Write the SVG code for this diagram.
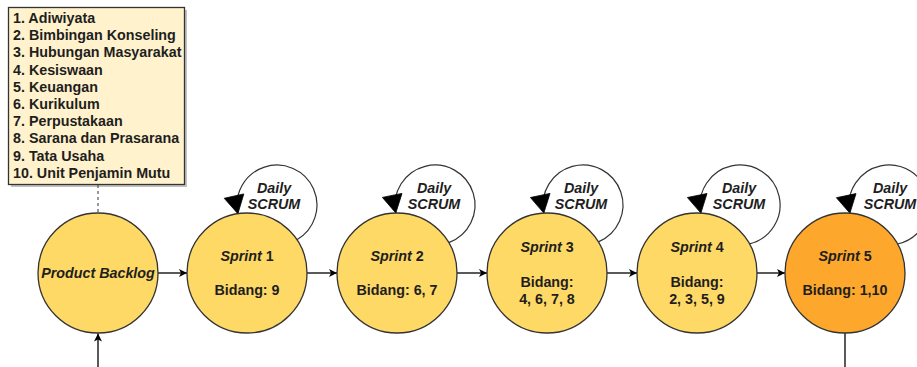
<svg xmlns="http://www.w3.org/2000/svg" width="917" height="367" viewBox="0 0 917 367">
  <style>
    text { font-family: "Liberation Sans", Arial, sans-serif; font-weight: bold; fill: #1e1e1e; }
    .leg { font-size: 14.3px; }
    .lbl { font-size: 14.3px; text-anchor: middle; }
    .it { font-style: italic; }
    .node { stroke: #333; stroke-width: 1.3; }
    .yel { fill: #FFD966; }
    .org { fill: #FDA82C; }
    .edge { stroke: #000; stroke-width: 1.3; fill: none; }
    .loop { stroke: #333; stroke-width: 1.2; fill: none; }
    .head { fill: #000; stroke: #000; stroke-width: 0.8; stroke-linejoin: miter; }
  </style>
  <defs>
    <marker id="arr" markerWidth="10" markerHeight="10" refX="9" refY="5" orient="auto" markerUnits="userSpaceOnUse">
      <path d="M1,1 L9,5 L1,9 L3,5 z" fill="#000"/>
    </marker>
  </defs>

  <g id="legend">
    <rect x="11" y="10" width="176" height="177" fill="#999" opacity="0.6"/>
    <rect x="8.5" y="7.5" width="176" height="177" fill="#FFF2CC" stroke="#333" stroke-width="1.3"/>
    <text class="leg" x="13" y="23">1. Adiwiyata</text>
    <text class="leg" x="13" y="40.2">2. Bimbingan Konseling</text>
    <text class="leg" x="13" y="57.4">3. Hubungan Masyarakat</text>
    <text class="leg" x="13" y="74.6">4. Kesiswaan</text>
    <text class="leg" x="13" y="91.8">5. Keuangan</text>
    <text class="leg" x="13" y="109">6. Kurikulum</text>
    <text class="leg" x="13" y="126.2">7. Perpustakaan</text>
    <text class="leg" x="13" y="143.4">8. Sarana dan Prasarana</text>
    <text class="leg" x="13" y="160.6">9. Tata Usaha</text>
    <text class="leg" x="13" y="177.8">10. Unit Penjamin Mutu</text>
  </g>

  <g id="connectors">
    <line x1="98" y1="185" x2="98" y2="213" stroke="#555" stroke-width="1.2" stroke-dasharray="3 3"/>
    <line class="edge" x1="158" y1="273" x2="187" y2="273" marker-end="url(#arr)"/>
    <line class="edge" x1="307" y1="273" x2="337" y2="273" marker-end="url(#arr)"/>
    <line class="edge" x1="457" y1="273" x2="487" y2="273" marker-end="url(#arr)"/>
    <line class="edge" x1="607" y1="273" x2="637" y2="273" marker-end="url(#arr)"/>
    <line class="edge" x1="757" y1="273" x2="785" y2="273" marker-end="url(#arr)"/>
    <line class="edge" x1="98" y1="367" x2="98" y2="333.5" stroke="#333" marker-end="url(#arr)"/>
    <line class="edge" x1="845" y1="333" x2="845" y2="367"/>

    <path class="loop" d="M296.9 239.7 A40 40 0 1 0 237.9 213.7"/>
    <polygon class="head" points="224.2,198.3 243.8,193.9 237.9,213.7"/>
    <path class="loop" d="M448.8 242.6 A40 40 0 1 0 395.8 213"/>
    <polygon class="head" points="382.4,197.4 402,193.4 395.8,213"/>
    <path class="loop" d="M598.4 241.9 A40 40 0 1 0 543.8 213.1"/>
    <polygon class="head" points="530.4,197.5 550,193.4 543.8,213.1"/>
    <path class="loop" d="M749.5 243.9 A40 40 0 1 0 700.9 213.1"/>
    <polygon class="head" points="687.4,197.5 707,193.5 700.9,213.1"/>
    <path class="loop" d="M897.5 244 A40 40 0 1 0 849.9 213.2"/>
    <polygon class="head" points="836.4,197.7 856,193.6 849.9,213.2"/>
  </g>

  <g id="product-backlog">
    <circle class="node yel" cx="98" cy="273" r="60"/>
    <text class="lbl it" x="98" y="278">Product Backlog</text>
  </g>

  <g id="sprint-1">
    <circle class="node yel" cx="247" cy="273" r="60"/>
    <text class="lbl" x="247" y="261"><tspan class="it">Sprint</tspan> 1</text>
    <text class="lbl" x="247" y="295.2">Bidang: 9</text>
  </g>
  <g id="scrum-1">
    <text class="lbl it" x="274" y="193" font-size="14">Daily</text>
    <text class="lbl it" x="274" y="209" font-size="14">SCRUM</text>
  </g>

  <g id="sprint-2">
    <circle class="node yel" cx="397" cy="273" r="60"/>
    <text class="lbl" x="397" y="261"><tspan class="it">Sprint</tspan> 2</text>
    <text class="lbl" x="397" y="295.2">Bidang: 6, 7</text>
  </g>
  <g id="scrum-2">
    <text class="lbl it" x="434" y="193" font-size="14">Daily</text>
    <text class="lbl it" x="434" y="209" font-size="14">SCRUM</text>
  </g>

  <g id="sprint-3">
    <circle class="node yel" cx="547" cy="273" r="60"/>
    <text class="lbl" x="547" y="252.2"><tspan class="it">Sprint</tspan> 3</text>
    <text class="lbl" x="547" y="286.6">Bidang:</text>
    <text class="lbl" x="547" y="303.8">4, 6, 7, 8</text>
  </g>
  <g id="scrum-3">
    <text class="lbl it" x="581" y="193" font-size="14">Daily</text>
    <text class="lbl it" x="581" y="209" font-size="14">SCRUM</text>
  </g>

  <g id="sprint-4">
    <circle class="node yel" cx="697" cy="273" r="60"/>
    <text class="lbl" x="697" y="252.2"><tspan class="it">Sprint</tspan> 4</text>
    <text class="lbl" x="697" y="286.6">Bidang:</text>
    <text class="lbl" x="697" y="303.8">2, 3, 5, 9</text>
  </g>
  <g id="scrum-4">
    <text class="lbl it" x="739" y="193" font-size="14">Daily</text>
    <text class="lbl it" x="739" y="209" font-size="14">SCRUM</text>
  </g>

  <g id="sprint-5">
    <circle class="node org" cx="845" cy="273" r="60"/>
    <text class="lbl" x="845" y="261"><tspan class="it">Sprint</tspan> 5</text>
    <text class="lbl" x="845" y="295.2">Bidang: 1,10</text>
  </g>
  <g id="scrum-5">
    <text class="lbl it" x="890" y="193" font-size="14">Daily</text>
    <text class="lbl it" x="890" y="209" font-size="14">SCRUM</text>
  </g>
</svg>
